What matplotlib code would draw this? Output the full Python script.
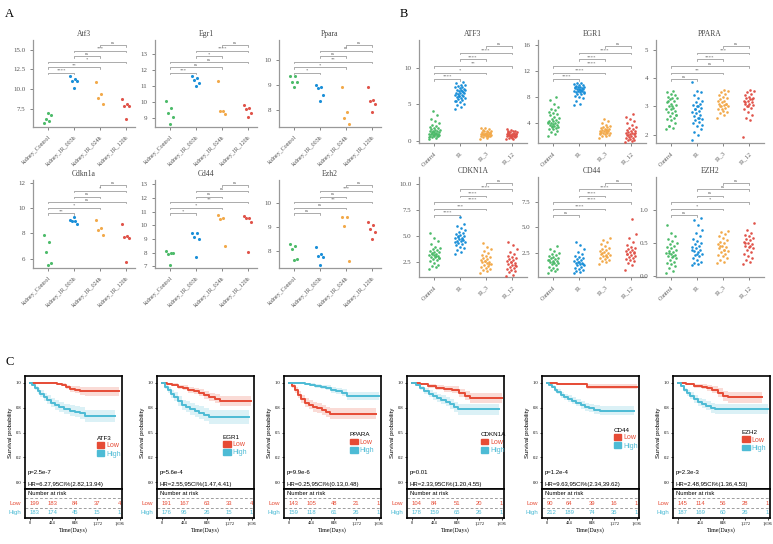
import numpy as np
import matplotlib
matplotlib.use("Agg")
import matplotlib.pyplot as plt
from matplotlib.patches import Patch
from matplotlib.ticker import FormatStrFormatter

W, H = 773, 544
plt.rcParams['font.family'] = ['Liberation Serif', 'DejaVu Serif']

colors = ['#4DBB6A', '#1A8FD8', '#F2A94A', '#E0534A']
grey = '#8a8a8a'
km_red = '#E64B35'
km_blue = '#4DBBD5'

pairs = [(0, 1), (0, 2), (0, 3), (1, 2), (1, 3), (2, 3)]

# ---------------- panel A data (mouse kidney, 4 time points) ----------------
a_labels = ['kidney_Control', 'kidney_IR_003h', 'kidney_IR_024h', 'kidney_IR_120h']

atf3_a = [[5.7, 6.0, 6.3, 6.7, 7.0],
          [11.7, 11.3, 11.1, 11.0, 10.2],
          [10.9, 9.4, 8.9, 8.2],
          [8.75, 8.2, 7.9, 7.9, 6.2]]
egr1_a = [[10.04, 9.6, 9.3, 9.06, 8.6],
          [11.63, 11.5, 11.4, 11.17, 11.0],
          [11.28, 9.42, 9.38, 9.2],
          [9.8, 9.6, 9.55, 9.3, 9.06]]
ppara_a = [[9.36, 9.34, 9.12, 9.1, 8.93],
           [9.0, 8.93, 8.88, 8.6, 8.35],
           [8.9, 7.92, 7.67, 7.45],
           [8.92, 8.4, 8.37, 8.25, 7.9]]
cdkn1a_a = [[7.87, 7.29, 6.53, 5.63, 5.53],
            [9.03, 8.97, 8.98, 8.76, 9.29],
            [9.03, 8.4, 8.24, 7.87],
            [8.71, 7.76, 7.74, 7.66, 5.71]]
cd44_a = [[8.15, 8.0, 7.93, 7.95, 7.12],
          [9.45, 9.4, 9.12, 9.02, 7.7],
          [10.72, 10.5, 10.42, 8.5],
          [10.7, 10.55, 10.53, 10.27, 8.02]]
ezh2_a = [[8.29, 8.21, 8.11, 7.66, 7.64],
          [8.16, 7.9, 7.8, 7.76, 7.44],
          [9.43, 9.43, 9.07, 7.61],
          [9.24, 9.1, 8.92, 8.79, 8.53]]

sig_a = {
    'Atf3': ['****', '**', '*', 'ns', '***', 'ns'],
    'Egr1': ['***', 'ns', 'ns', '*', '****', 'ns'],
    'Ppara': ['*', '*', '**', 'ns', 'ns', 'ns'],
    'Cdkn1a': ['**', '*', 'ns', 'ns', '*', 'ns'],
    'Cd44': ['*', '*', '**', 'ns', 'ns', 'ns'],
    'Ezh2': ['ns', 'ns', '**', 'ns', '***', 'ns'],
}

# ---------------- panel B data (human, 4 groups) ----------------
b_labels = ['Control', 'IR', 'IR_3', 'IR_12']

atf3_b = [
    [0.3, 0.4, 0.5, 0.6, 0.6, 0.7, 0.7, 0.8, 0.8, 0.9, 0.9, 1.0, 1.0, 1.0, 1.1, 1.1, 1.2, 1.2, 1.3,
     1.3, 1.4, 1.5, 1.5, 1.6, 1.7, 1.8, 1.9, 2.0, 2.2, 2.4, 2.7, 3.0, 3.6, 4.1, 0.5, 0.9, 1.2, 0.8],
    [4.3, 4.6, 4.9, 5.1, 5.3, 5.4, 5.6, 5.7, 5.8, 5.9, 6.0, 6.1, 6.2, 6.3, 6.3, 6.4, 6.5, 6.5, 6.6,
     6.7, 6.8, 6.9, 7.0, 7.0, 7.1, 7.2, 7.3, 7.4, 7.5, 7.6, 7.7, 7.9, 8.0, 6.2, 5.5, 6.8],
    [0.3, 0.4, 0.5, 0.6, 0.6, 0.7, 0.7, 0.8, 0.8, 0.8, 0.9, 0.9, 0.9, 1.0, 1.0, 1.0, 1.1, 1.1, 1.2,
     1.2, 1.3, 1.3, 1.4, 1.5, 1.6, 1.7, 1.8, 0.7, 0.9, 1.1],
    [0.2, 0.3, 0.4, 0.5, 0.5, 0.6, 0.6, 0.7, 0.7, 0.7, 0.8, 0.8, 0.8, 0.9, 0.9, 0.9, 1.0, 1.0, 1.1,
     1.1, 1.2, 1.2, 1.3, 1.3, 1.4, 1.5, 1.6, 0.6, 0.8, 1.0, 0.4, 1.2]]
egr1_b = [
    [2.0, 2.4, 2.7, 2.9, 3.1, 3.2, 3.3, 3.4, 3.5, 3.6, 3.7, 3.8, 3.9, 4.0, 4.0, 4.1, 4.2, 4.3, 4.4,
     4.5, 4.6, 4.8, 5.0, 5.2, 5.4, 5.6, 5.8, 6.0, 6.2, 6.5, 7.0, 7.6, 8.0, 3.6, 4.2],
    [6.8, 6.9, 7.4, 7.8, 8.0, 8.2, 8.4, 8.5, 8.6, 8.7, 8.8, 8.9, 9.0, 9.0, 9.1, 9.2, 9.2, 9.3, 9.4,
     9.4, 9.5, 9.6, 9.6, 9.7, 9.8, 9.9, 10.0, 10.1, 10.2, 8.8, 9.1, 9.5],
    [1.8, 2.0, 2.1, 2.2, 2.3, 2.4, 2.5, 2.5, 2.6, 2.7, 2.7, 2.8, 2.8, 2.9, 3.0, 3.0, 3.1, 3.2, 3.3,
     3.4, 3.5, 3.6, 3.8, 4.0, 4.3, 4.7, 2.6, 3.0],
    [1.2, 1.3, 1.4, 1.5, 1.6, 1.7, 1.8, 1.9, 2.0, 2.1, 2.2, 2.3, 2.4, 2.5, 2.6, 2.7, 2.8, 2.9, 3.0,
     3.1, 3.3, 3.5, 3.7, 4.0, 4.3, 4.6, 4.9, 5.4, 2.2, 2.6]]
ppara_b = [
    [2.2, 2.25, 2.3, 2.4, 2.5, 2.55, 2.6, 2.65, 2.7, 2.75, 2.8, 2.85, 2.9, 2.9, 2.95, 3.0, 3.05, 3.1,
     3.15, 3.2, 3.25, 3.3, 3.3, 3.35, 3.4, 3.45, 3.5, 3.55, 2.3, 2.7, 3.0, 3.2],
    [1.8, 2.0, 2.1, 2.2, 2.3, 2.4, 2.45, 2.5, 2.55, 2.6, 2.65, 2.7, 2.75, 2.8, 2.85, 2.9, 2.95, 3.0,
     3.05, 3.1, 3.15, 3.2, 3.3, 3.4, 3.5, 3.55, 3.87, 2.6, 2.9, 2.35, 3.0],
    [2.6, 2.7, 2.75, 2.8, 2.85, 2.9, 2.95, 3.0, 3.0, 3.05, 3.1, 3.1, 3.15, 3.2, 3.2, 3.25, 3.3, 3.35,
     3.4, 3.45, 3.5, 3.55, 3.6, 3.0, 3.1, 2.9],
    [1.9, 2.5, 2.6, 2.7, 2.8, 2.9, 2.95, 3.0, 3.05, 3.1, 3.1, 3.15, 3.2, 3.2, 3.25, 3.3, 3.3, 3.35,
     3.4, 3.45, 3.5, 3.55, 3.6, 3.15, 3.25, 3.0]]
cdkn1a_b = [
    [1.8, 2.0, 2.1, 2.2, 2.4, 2.6, 2.7, 2.8, 2.9, 3.0, 3.0, 3.1, 3.2, 3.2, 3.3, 3.4, 3.5, 3.5, 3.6,
     3.7, 3.8, 3.9, 4.0, 4.2, 4.5, 4.8, 5.3, 3.1, 3.3, 2.9],
    [3.3, 3.5, 3.7, 3.9, 4.0, 4.1, 4.2, 4.3, 4.4, 4.5, 4.5, 4.6, 4.7, 4.8, 4.8, 4.9, 5.0, 5.1, 5.2,
     5.3, 5.4, 5.6, 5.8, 6.0, 6.2, 6.8, 4.4, 4.7, 5.0],
    [1.4, 1.6, 1.7, 1.8, 1.9, 2.0, 2.1, 2.2, 2.3, 2.4, 2.5, 2.5, 2.6, 2.7, 2.8, 2.9, 3.0, 3.1, 3.2,
     3.4, 3.6, 3.8, 4.0, 4.3, 2.3, 2.6],
    [1.2, 1.3, 1.5, 1.6, 1.7, 1.8, 1.9, 2.0, 2.1, 2.2, 2.3, 2.4, 2.5, 2.6, 2.7, 2.8, 2.9, 3.0, 3.1,
     3.3, 3.5, 3.8, 4.1, 4.4, 2.2, 2.5]]
cd44_b = [
    [0.6, 0.8, 0.9, 1.0, 1.1, 1.2, 1.3, 1.4, 1.5, 1.5, 1.6, 1.7, 1.7, 1.8, 1.9, 2.0, 2.0, 2.1, 2.2,
     2.3, 2.4, 2.5, 2.7, 2.9, 3.2, 1.6, 1.8],
    [0.6, 0.7, 0.8, 0.9, 1.0, 1.1, 1.2, 1.3, 1.3, 1.4, 1.5, 1.5, 1.6, 1.7, 1.8, 1.9, 2.0, 2.1, 2.2,
     2.4, 2.6, 2.9, 3.3, 3.6, 1.4, 1.6],
    [1.4, 1.6, 1.7, 1.8, 1.9, 2.0, 2.1, 2.2, 2.3, 2.3, 2.4, 2.5, 2.6, 2.7, 2.8, 2.9, 3.0, 3.2, 3.4,
     3.6, 3.8, 4.0, 2.2, 2.5],
    [0.9, 1.3, 1.5, 1.7, 1.8, 1.9, 2.0, 2.1, 2.2, 2.3, 2.4, 2.5, 2.6, 2.7, 2.8, 2.9, 3.0, 3.1, 3.3,
     3.6, 4.0, 4.4, 5.8, 2.4, 2.6]]
ezh2_b = [
    [0.05, 0.08, 0.12, 0.15, 0.18, 0.2, 0.22, 0.25, 0.27, 0.29, 0.3, 0.32, 0.33, 0.35, 0.36, 0.38,
     0.4, 0.42, 0.44, 0.46, 0.48, 0.5, 0.53, 0.56, 0.6, 0.65, 0.77, 0.3, 0.35],
    [0.17, 0.19, 0.2, 0.22, 0.25, 0.27, 0.3, 0.32, 0.34, 0.36, 0.38, 0.4, 0.42, 0.44, 0.46, 0.48,
     0.5, 0.53, 0.56, 0.6, 0.65, 0.7, 0.77, 0.85, 0.88, 0.33, 0.4],
    [0.2, 0.22, 0.25, 0.28, 0.3, 0.32, 0.34, 0.36, 0.38, 0.4, 0.42, 0.44, 0.46, 0.48, 0.5, 0.52,
     0.55, 0.58, 0.6, 0.63, 0.66, 0.68, 0.4, 0.45],
    [0.18, 0.22, 0.25, 0.28, 0.3, 0.33, 0.36, 0.4, 0.42, 0.44, 0.46, 0.48, 0.5, 0.52, 0.54, 0.56,
     0.58, 0.6, 0.62, 0.65, 0.7, 0.8, 0.45, 0.5]]

sig_b = {
    'ATF3': ['****', '*', '**', '****', '****', 'ns'],
    'EGR1': ['****', '****', '****', '****', '****', 'ns'],
    'PPARA': ['ns', '**', 'ns', '****', '***', 'ns'],
    'CDKN1A': ['****', '***', '****', '****', '****', 'ns'],
    'CD44': ['ns', '****', '****', '****', '****', 'ns'],
    'EZH2': ['ns', '*', '*', 'ns', 'ns', 'ns'],
}

# ---------------- panel C data (survival) ----------------
km_times = [0, 424, 848, 1272, 1696]
km_genes = ['ATF3', 'EGR1', 'PPARA', 'CDKN1A', 'CD44', 'EZH2']
# (time, survival, ci half-width)
km_low = [
    ([0, 520, 600, 680, 760, 850, 950, 1050, 1690],
     [1.0, 0.99, 0.98, 0.96, 0.94, 0.93, 0.92, 0.915, 0.915],
     [0, 0.01, 0.015, 0.02, 0.03, 0.035, 0.04, 0.045, 0.045]),
    ([0, 100, 200, 300, 400, 500, 600, 700, 800, 900, 1000, 1100, 1690],
     [1.0, 0.99, 0.98, 0.96, 0.95, 0.93, 0.92, 0.9, 0.88, 0.86, 0.84, 0.82, 0.82],
     [0, 0.01, 0.015, 0.02, 0.025, 0.03, 0.03, 0.035, 0.04, 0.04, 0.045, 0.05, 0.05]),
    ([0, 60, 120, 180, 240, 300, 380, 460, 540, 620, 700, 780, 1650],
     [1.0, 0.97, 0.93, 0.88, 0.84, 0.80, 0.78, 0.76, 0.75, 0.73, 0.71, 0.69, 0.69],
     [0, 0.02, 0.03, 0.035, 0.04, 0.045, 0.045, 0.05, 0.05, 0.05, 0.05, 0.055, 0.055]),
    ([0, 150, 300, 450, 600, 750, 900, 1000, 1100, 1700],
     [1.0, 0.99, 0.97, 0.95, 0.94, 0.93, 0.90, 0.87, 0.845, 0.845],
     [0, 0.01, 0.02, 0.025, 0.03, 0.035, 0.04, 0.045, 0.05, 0.05]),
    ([0, 200, 500, 750, 1700],
     [1.0, 0.99, 0.985, 0.96, 0.96],
     [0, 0.005, 0.01, 0.025, 0.025]),
    ([0, 150, 300, 450, 550, 650, 750, 850, 950, 1590],
     [1.0, 0.99, 0.97, 0.96, 0.95, 0.93, 0.90, 0.87, 0.855, 0.855],
     [0, 0.01, 0.02, 0.025, 0.03, 0.035, 0.045, 0.05, 0.055, 0.055]),
]
km_high = [
    ([0, 50, 100, 150, 200, 260, 320, 400, 480, 560, 650, 750, 850, 950, 1050, 1600],
     [1.0, 0.98, 0.95, 0.92, 0.89, 0.86, 0.83, 0.80, 0.78, 0.76, 0.74, 0.72, 0.71, 0.70, 0.67, 0.67],
     [0, 0.01, 0.02, 0.03, 0.035, 0.04, 0.045, 0.045, 0.05, 0.05, 0.05, 0.055, 0.055, 0.06, 0.06, 0.06]),
    ([0, 60, 120, 180, 240, 300, 380, 460, 540, 620, 700, 800, 900, 1650],
     [1.0, 0.96, 0.93, 0.89, 0.86, 0.82, 0.78, 0.76, 0.74, 0.72, 0.70, 0.68, 0.66, 0.66],
     [0, 0.02, 0.03, 0.04, 0.045, 0.05, 0.05, 0.055, 0.06, 0.06, 0.065, 0.065, 0.07, 0.07]),
    ([0, 200, 300, 400, 500, 600, 700, 800, 900, 1000, 1100, 1700],
     [1.0, 1.0, 0.99, 0.98, 0.97, 0.96, 0.95, 0.93, 0.92, 0.90, 0.87, 0.87],
     [0, 0, 0.01, 0.015, 0.02, 0.02, 0.025, 0.03, 0.03, 0.035, 0.04, 0.04]),
    ([0, 80, 160, 240, 320, 400, 480, 560, 640, 720, 800, 880, 1650],
     [1.0, 0.98, 0.95, 0.92, 0.89, 0.87, 0.85, 0.83, 0.81, 0.79, 0.76, 0.735, 0.735],
     [0, 0.01, 0.02, 0.03, 0.035, 0.04, 0.04, 0.045, 0.045, 0.05, 0.05, 0.055, 0.055]),
    ([0, 50, 100, 150, 200, 260, 320, 400, 480, 560, 640, 720, 800, 900, 1000, 1650],
     [1.0, 0.98, 0.96, 0.93, 0.91, 0.88, 0.86, 0.84, 0.82, 0.80, 0.78, 0.76, 0.75, 0.73, 0.72, 0.72],
     [0, 0.01, 0.015, 0.02, 0.025, 0.03, 0.03, 0.035, 0.035, 0.035, 0.04, 0.04, 0.04, 0.045, 0.045, 0.045]),
    ([0, 60, 120, 180, 240, 300, 380, 460, 540, 620, 700, 1700],
     [1.0, 0.97, 0.93, 0.90, 0.87, 0.84, 0.81, 0.79, 0.77, 0.75, 0.74, 0.74],
     [0, 0.01, 0.02, 0.03, 0.035, 0.04, 0.04, 0.045, 0.045, 0.05, 0.05, 0.05]),
]
km_p = ['p=2.5e-7', 'p=5.6e-4', 'p=9.9e-6', 'p=0.01', 'p=1.2e-4', 'p=2.3e-3']
km_hr = ['HR=6.27,95CI%(2.82,13.94)', 'HR=2.55,95CI%(1.47,4.41)', 'HR=0.25,95CI%(0.13,0.48)',
         'HR=2.33,95CI%(1.20,4.55)', 'HR=9.63,95CI%(2.34,39.62)', 'HR=2.48,95CI%(1.36,4.53)']
risk_low = [[199, 183, 84, 37, 4], [191, 167, 63, 33, 4], [143, 105, 48, 21, 1],
            [104, 84, 51, 20, 1], [90, 64, 39, 16, 1], [145, 114, 56, 28, 1]]
risk_high = [[183, 174, 45, 15, 1], [176, 95, 26, 15, 1], [159, 118, 61, 26, 1],
             [178, 159, 65, 26, 1], [212, 189, 74, 35, 1], [187, 169, 60, 26, 1]]

fig = plt.figure(figsize=(W / 100, H / 100), dpi=100)


def px_axes(left, top, right, bottom):
    return fig.add_axes([left / W, 1 - bottom / H, (right - left) / W, (bottom - top) / H])


def dot_panel(ax, title, groups, xlabels, sig, ylim, yticks, fmt, spread, size, xmax):
    for i, vals in enumerate(groups):
        n = len(vals)
        off = ((np.arange(n) * 0.618) % 1 - 0.5) * spread
        ax.scatter(i + off, vals, s=size, color=colors[i], linewidths=0, zorder=3)
    ax.set_xlim(-0.6, xmax)
    ax.set_ylim(*ylim)
    ax.set_yticks(yticks)
    ax.yaxis.set_major_formatter(FormatStrFormatter(fmt))
    ax.set_xticks(range(4))
    ax.set_xticklabels(xlabels, rotation=45, ha='right', rotation_mode='anchor', fontsize=4.3, color='#555555')
    ax.tick_params(axis='y', labelsize=5, colors='#555555', length=2, width=0.5)
    ax.tick_params(axis='x', length=2, width=0.5, colors='#555555')
    for s in ('top', 'right'):
        ax.spines[s].set_visible(False)
    for s in ('left', 'bottom'):
        ax.spines[s].set_color('#999999')
        ax.spines[s].set_linewidth(0.9)
    ax.set_title(title, fontsize=5.5, color='#444444', pad=3)
    trans = ax.get_xaxis_transform()
    for k, ((a, b), lab) in enumerate(zip(pairs, sig)):
        y = 0.62 + 0.064 * k
        ax.plot([a, a, b, b], [y - 0.015, y, y, y - 0.015], transform=trans, color=grey, lw=0.5, clip_on=False)
        ax.text((a + b) / 2, y + 0.004, lab, transform=trans, ha='center', va='bottom',
                fontsize=3.3, color='#666666')


# ---------- panel A ----------
a_specs = [
    ('Atf3', atf3_a, (5.25, 16.2), [7.5, 10, 12.5, 15], '%.1f'),
    ('Egr1', egr1_a, (8.4, 13.9), [9, 10, 11, 12, 13], '%d'),
    ('Ppara', ppara_a, (7.31, 10.8), [8, 9, 10], '%d'),
    ('Cdkn1a', cdkn1a_a, (5.26, 12.2), [6, 8, 10, 12], '%d'),
    ('Cd44', cd44_a, (6.88, 13.3), [7, 8, 9, 10, 11, 12, 13], '%d'),
    ('Ezh2', ezh2_a, (7.3, 10.98), [8, 9, 10], '%d'),
]
a_lefts = [33, 155, 279]
for k, (name, data, yl, yt, fmt) in enumerate(a_specs):
    r, c = divmod(k, 3)
    top, bot = (40, 127) if r == 0 else (180, 268)
    ax = px_axes(a_lefts[c], top, a_lefts[c] + 102, bot)
    dot_panel(ax, name, data, a_labels, sig_a[name], yl, yt, fmt, 0.32, 5, 3.35)

# ---------- panel B ----------
b_specs = [
    ('ATF3', atf3_b, (-0.3, 13.8), [0, 5, 10], '%d'),
    ('EGR1', egr1_b, (1.0, 16.7), [4, 8, 12, 16], '%d'),
    ('PPARA', ppara_b, (1.7, 5.36), [2, 3, 4, 5], '%d'),
    ('CDKN1A', cdkn1a_b, (1.06, 10.7), [2.5, 5, 7.5, 10], '%.1f'),
    ('CD44', cd44_b, (0.18, 9.9), [2.5, 5, 7.5], '%.1f'),
    ('EZH2', ezh2_b, (-0.01, 1.49), [0, 0.5, 1.0], '%.1f'),
]
b_lefts = [419, 538, 656]
for k, (name, data, yl, yt, fmt) in enumerate(b_specs):
    r, c = divmod(k, 3)
    top, bot = (40, 143) if r == 0 else (177, 277)
    ax = px_axes(b_lefts[c], top, b_lefts[c] + 108, bot)
    dot_panel(ax, name, data, b_labels, sig_b[name], yl, yt, fmt, 0.42, 3.5, 3.6)

# ---------- panel C ----------
c_lefts = [25, 157, 284, 407, 542, 673]
leg_pos = [(0.74, 0.47), (0.68, 0.48), (0.68, 0.50), (0.76, 0.50), (0.74, 0.54), (0.71, 0.52)]
for k, gene in enumerate(km_genes):
    left = c_lefts[k]
    right = left + 97
    ax = px_axes(left, 376, right, 489)
    rt = px_axes(left, 489, right, 518)
    for curve, col in ((km_low[k], km_red), (km_high[k], km_blue)):
        t, s, ci = (np.array(v, dtype=float) for v in curve)
        ax.fill_between(t, s - ci, np.minimum(s + ci, 1.0), step='post', color=col, alpha=0.2, lw=0)
        ax.step(t, s, where='post', color=col, lw=1.4)
    ax.set_xlim(-90, 1740)
    ax.set_ylim(-0.07, 1.07)
    ax.set_xticks(km_times)
    ax.tick_params(labelbottom=False, length=0)
    ax.set_yticks([0, 0.25, 0.5, 0.75, 1.0])
    ax.yaxis.set_major_formatter(FormatStrFormatter('%.1f'))
    ax.tick_params(axis='y', labelsize=3.3, length=1.5, width=0.5, pad=1)
    ax.set_ylabel('Survival probability', fontsize=4.3, family=['Liberation Sans', 'DejaVu Sans'], labelpad=2)
    for sp in ax.spines.values():
        sp.set_linewidth(1.2)
    ax.text(0.03, 0.13, km_p[k], transform=ax.transAxes, fontsize=4.3,
            family=['Liberation Sans', 'DejaVu Sans'])
    ax.text(0.03, 0.03, km_hr[k], transform=ax.transAxes, fontsize=4.3,
            family=['Liberation Sans', 'DejaVu Sans'])
    handles = [Patch(color=km_red, label='Low'), Patch(color=km_blue, label='High')]
    leg = ax.legend(handles=handles, title=gene, loc='upper left', bbox_to_anchor=leg_pos[k],
                    frameon=False, prop={'family': 'Liberation Sans', 'size': 5}, title_fontsize=4.5,
                    handlelength=1.1, handleheight=0.9, handletextpad=0.3, labelspacing=0.15,
                    borderpad=0, borderaxespad=0, alignment='left')
    leg.get_title().set_family('Liberation Sans')
    for txt, col in zip(leg.get_texts(), (km_red, km_blue)):
        txt.set_color(col)

    # risk table
    rt.set_xlim(-90, 1740)
    rt.set_ylim(0, 1)
    rt.set_yticks([])
    rt.set_xticks(km_times)
    rt.set_xticklabels(['0', '424', '848', '1,272', '1,696'], fontsize=3.2)
    rt.tick_params(axis='x', length=1.5, width=0.5, pad=1)
    for sp in rt.spines.values():
        sp.set_linewidth(1.2)
    rt.set_xlabel('Time(Days)', fontsize=4.3, labelpad=1.5)
    rt.text(-40, 0.83, 'Number at risk', fontsize=4.2, va='center', family=['Liberation Sans', 'DejaVu Sans'])
    rt.axhline(0.68, color='#777777', lw=0.5, ls=(0, (4, 3)))
    rt.axhline(0.36, color='#777777', lw=0.5, ls=(0, (4, 3)))
    for tm, nl, nh in zip(km_times, risk_low[k], risk_high[k]):
        rt.text(tm, 0.5, str(nl), color=km_red, fontsize=4.2, ha='left' if tm == 0 else 'center',
                va='center', family=['Liberation Sans', 'DejaVu Sans'])
        rt.text(tm, 0.2, str(nh), color=km_blue, fontsize=4.2, ha='left' if tm == 0 else 'center',
                va='center', family=['Liberation Sans', 'DejaVu Sans'])
    rt.text(-0.04, 0.5, 'Low', color=km_red, fontsize=4.5, ha='right', va='center',
            transform=rt.transAxes, family=['Liberation Sans', 'DejaVu Sans'])
    rt.text(-0.04, 0.2, 'High', color=km_blue, fontsize=4.5, ha='right', va='center',
            transform=rt.transAxes, family=['Liberation Sans', 'DejaVu Sans'])

# panel letters
fig.text(5 / W, 1 - 14 / H, 'A', fontsize=9, va='center')
fig.text(400 / W, 1 - 14 / H, 'B', fontsize=9, va='center')
fig.text(5 / W, 1 - 362 / H, 'C', fontsize=9, va='center')

fig.savefig('out.png', dpi=100)
